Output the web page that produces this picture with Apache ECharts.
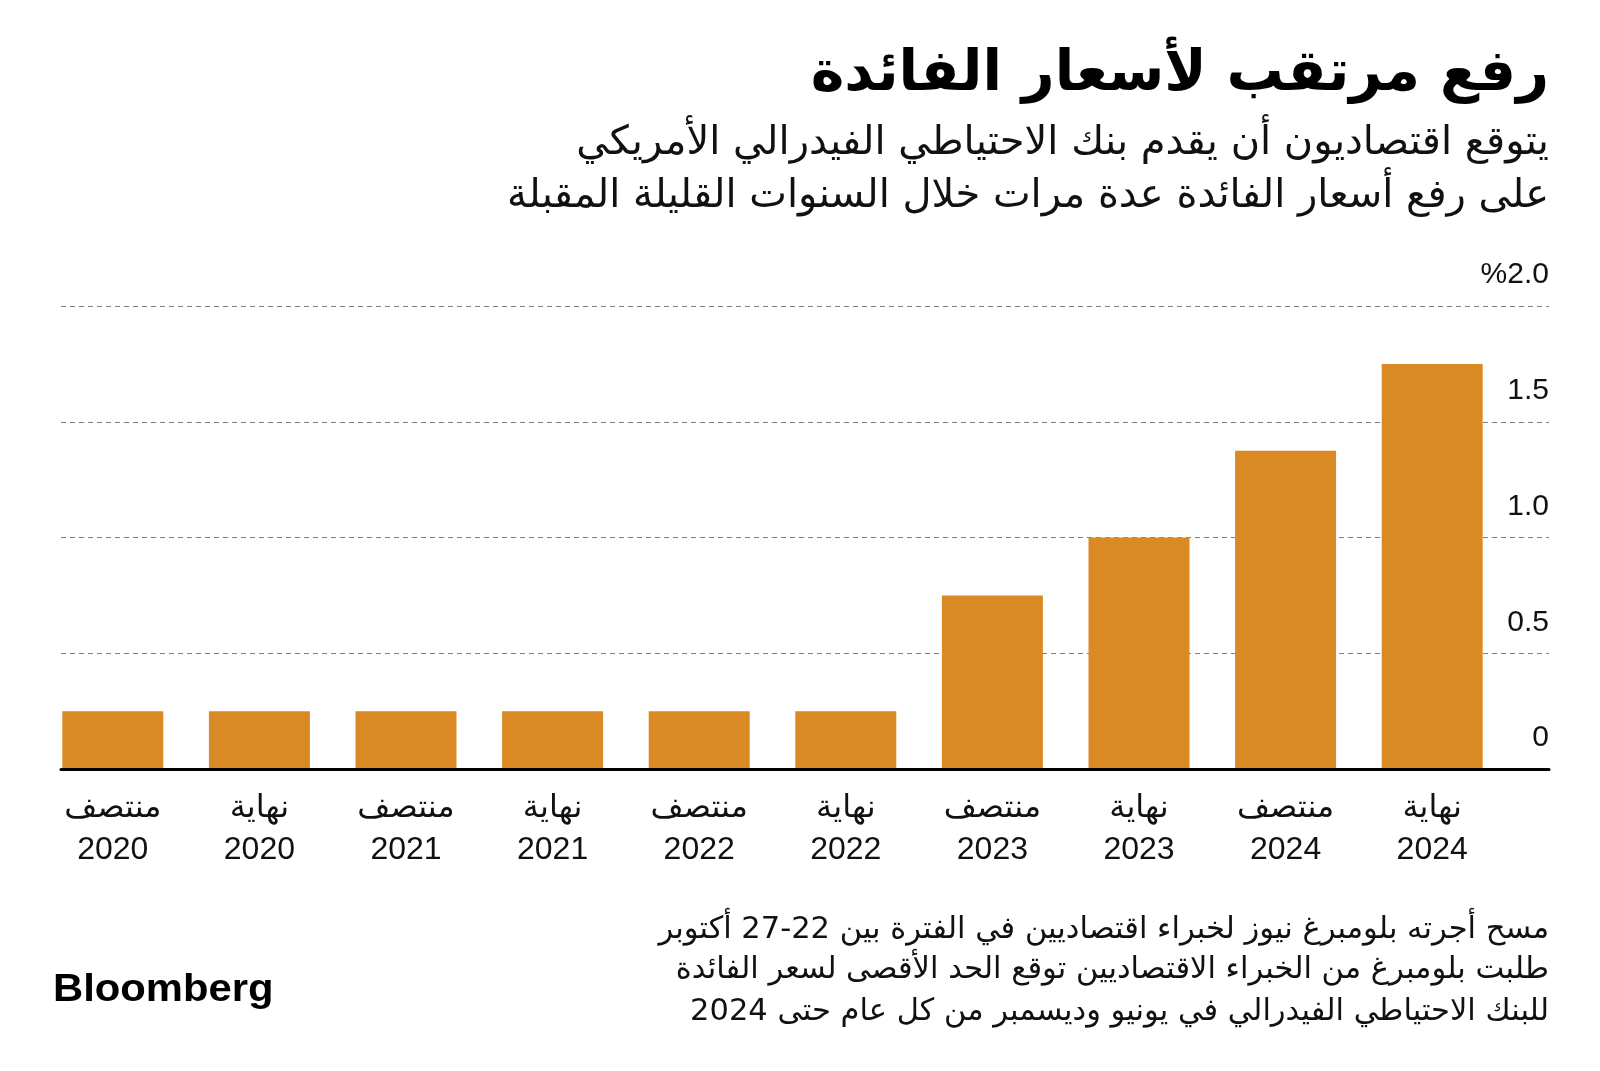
<!DOCTYPE html>
<html>
<head>
<meta charset="utf-8">
<script src="https://cdn.jsdelivr.net/npm/echarts@6/dist/echarts.min.js"></script>
<style>
html,body{margin:0;padding:0;background:#fff;}
#chart{width:1600px;height:1071px;}
</style>
</head>
<body>
<div id="chart"></div>
<script>
// ---- Data ----
const periods = ['منتصف','نهاية','منتصف','نهاية','منتصف','نهاية','منتصف','نهاية','منتصف','نهاية'];
const years = ['2020','2020','2021','2021','2022','2022','2023','2023','2024','2024'];
const rateValues = [0.25, 0.25, 0.25, 0.25, 0.25, 0.25, 0.75, 1.0, 1.375, 1.75];
const yTickValues = [0, 0.5, 1.0, 1.5, 2.0];
const yTickLabels = ['0', '0.5', '1.0', '1.5', '%2.0'];

const titleText = 'رفع مرتقب لأسعار الفائدة';
const subtitleLines = [
  'يتوقع اقتصاديون أن يقدم بنك الاحتياطي الفيدرالي الأمريكي',
  'على رفع أسعار الفائدة عدة مرات خلال السنوات القليلة المقبلة'
];
const footnoteLines = [
  'مسح أجرته بلومبرغ نيوز لخبراء اقتصاديين في الفترة بين 22-27 أكتوبر',
  'طلبت بلومبرغ من الخبراء الاقتصاديين توقع الحد الأقصى لسعر الفائدة',
  'للبنك الاحتياطي الفيدرالي في يونيو وديسمبر من كل عام حتى 2024'
];
const sourceText = 'Bloomberg';

const categories = periods.map((p, i) => p + '\n' + years[i]);

const FONT = '"Liberation Sans", "DejaVu Sans", sans-serif';
const AR = '"DejaVu Sans", sans-serif';

const chart = echarts.init(document.getElementById('chart'), null, {renderer: 'canvas'});

const graphics = [];
graphics.push({type: 'text', x: 1549, y: 75, style: {text: titleText, font: 'bold 57px ' + AR, fill: '#000', align: 'right', verticalAlign: 'middle'}});
const subY = [144, 197];
subtitleLines.forEach((t, i) => graphics.push({type: 'text', x: 1549, y: subY[i], style: {text: t, font: '40px ' + AR, fill: '#111', align: 'right', verticalAlign: 'middle'}}));
const footY = [930, 970, 1012];
footnoteLines.forEach((t, i) => graphics.push({type: 'text', x: 1549, y: footY[i], style: {text: t, font: '30.5px ' + AR, fill: '#111', align: 'right', verticalAlign: 'middle'}}));
graphics.push({type: 'text', x: 53, y: 991, scaleX: 1.1, style: {text: sourceText, font: 'bold 38px ' + FONT, fill: '#000', align: 'left', verticalAlign: 'middle'}});

chart.setOption({
  animation: false,
  backgroundColor: '#fff',
  graphic: graphics,
  grid: [
    {left: 39.5, right: 94.5, top: 306, bottom: 302},
    {left: 61, right: 51, top: 306, bottom: 302}
  ],
  xAxis: [
    {
      type: 'category', gridIndex: 0, data: categories,
      axisLine: {show: false}, axisTick: {show: false},
      axisLabel: {
        margin: 18, interval: 0, color: '#111',
        fontFamily: FONT, fontSize: 32, lineHeight: 42
      }
    },
    {
      type: 'value', gridIndex: 1, min: 0, max: 1, show: true, z: 10,
      axisLine: {show: true, onZero: false, lineStyle: {color: '#000', width: 3}},
      axisTick: {show: false}, axisLabel: {show: false}, splitLine: {show: false}
    }
  ],
  yAxis: [
    {type: 'value', gridIndex: 0, min: 0, max: 2, show: false},
    {
      type: 'value', gridIndex: 1, min: 0, max: 2, interval: 0.5, position: 'right',
      axisLine: {show: false}, axisTick: {show: false},
      axisLabel: {
        inside: true, margin: 0, color: '#111', fontFamily: FONT, fontSize: 30,
        verticalAlign: 'bottom', lineHeight: 30, padding: [0, 0, 16, 0],
        formatter: function (v) {
          const idx = yTickValues.indexOf(v);
          return idx >= 0 ? yTickLabels[idx] : '';
        }
      },
      splitLine: {show: true, lineStyle: {color: '#808080', width: 1, type: [5, 4]}}
    }
  ],
  series: [
    {
      type: 'bar', xAxisIndex: 0, yAxisIndex: 0, data: rateValues,
      barWidth: 101, itemStyle: {color: '#DA8A25'}, z: 5
    }
  ]
});
</script>
</body>
</html>
